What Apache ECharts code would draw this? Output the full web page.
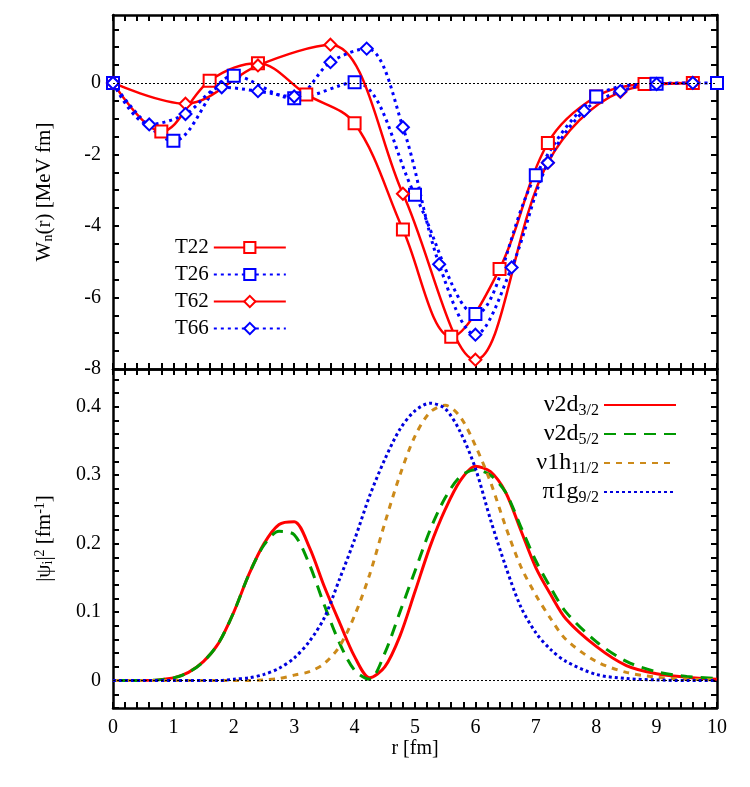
<!DOCTYPE html>
<html>
<head>
<meta charset="utf-8">
<script src="https://cdn.jsdelivr.net/npm/echarts@6/dist/echarts.min.js"></script>
<style>html,body{margin:0;background:#fff}#chart{width:750px;height:787px}</style>
</head>
<body>
<div id="chart"></div>
<script>
// top panel: W_n(r), markers on each curve
var rT22 = [0, 0.8, 1.6, 2.4, 3.2, 4.0, 4.8, 5.6, 6.4, 7.2, 8.0, 8.8, 9.6];
var wT22 = [0, -1.36, 0.06, 0.55, -0.32, -1.13, -4.1, -7.1, -5.2, -1.68, -0.38, -0.03, 0];
var rT26 = [0, 1, 2, 3, 4, 5, 6, 7, 8, 9, 10];
var wT26 = [0, -1.62, 0.2, -0.43, 0.02, -3.13, -6.46, -2.58, -0.38, -0.02, 0];
var rT62 = [0, 1.2, 2.4, 3.6, 4.8, 6.0, 7.2, 8.4, 9.6];
var wT62 = [0, -0.58, 0.49, 1.07, -3.1, -7.74, -2.23, -0.25, 0];
var rT66 = [0, 0.6, 1.2, 1.8, 2.4, 3.0, 3.6, 4.2, 4.8, 5.4, 6.0, 6.6, 7.2, 7.8, 8.4, 9.0, 9.6];
var wT66 = [0, -1.16, -0.87, -0.12, -0.23, -0.38, 0.58, 0.96, -1.24, -5.07, -7.04, -5.16, -2.23, -0.78, -0.23, -0.03, 0];

// bottom panel: |psi|^2
var rPsi = [0, 0.5, 1, 1.25, 1.5, 1.75, 2, 2.25, 2.5, 2.75, 3, 3.25, 3.5, 3.75, 4, 4.25, 4.5, 4.75, 5, 5.25, 5.5, 5.75, 6, 6.25, 6.5, 6.75, 7, 7.25, 7.5, 8, 8.5, 9, 9.5, 10];
var d32  = [0, 0, 0.004, 0.012, 0.028, 0.055, 0.1, 0.155, 0.2, 0.228, 0.232, 0.195, 0.137, 0.085, 0.035, 0.004, 0.02, 0.065, 0.13, 0.196, 0.25, 0.292, 0.313, 0.305, 0.275, 0.22, 0.165, 0.125, 0.09, 0.05, 0.022, 0.01, 0.005, 0.002];
var d52  = [0, 0, 0.004, 0.012, 0.028, 0.055, 0.1, 0.155, 0.198, 0.218, 0.213, 0.17, 0.11, 0.055, 0.015, 0.002, 0.04, 0.1, 0.16, 0.22, 0.267, 0.298, 0.308, 0.3, 0.275, 0.225, 0.175, 0.135, 0.1, 0.057, 0.028, 0.013, 0.006, 0.003];
var h112 = [0, 0, 0, 0, 0, 0, 0, 0, 0.001, 0.003, 0.008, 0.013, 0.025, 0.05, 0.095, 0.155, 0.23, 0.3, 0.357, 0.392, 0.402, 0.385, 0.343, 0.29, 0.225, 0.167, 0.125, 0.09, 0.06, 0.028, 0.012, 0.005, 0.002, 0.001];
var g92  = [0, 0, 0, 0, 0, 0, 0.002, 0.004, 0.009, 0.018, 0.033, 0.057, 0.092, 0.148, 0.206, 0.27, 0.323, 0.367, 0.394, 0.405, 0.397, 0.363, 0.31, 0.235, 0.167, 0.108, 0.07, 0.045, 0.028, 0.009, 0.003, 0.001, 0, 0];

var FONT = 'Liberation Serif';
function zip(xs, ys) { return xs.map(function (x, i) { return [x, ys[i]]; }); }
function isMult(v, m) { var q = v / m; return Math.abs(q - Math.round(q)) < 1e-6; }

function xAx(grid, pos, labels) {
  return {
    type: 'value', gridIndex: grid, position: pos, min: 0, max: 10, interval: 0.2,
    splitLine: { show: false },
    axisLine: { onZero: false, lineStyle: { color: '#000', width: 2.5 } },
    axisTick: { inside: true, length: 6, lineStyle: { color: '#000', width: 2 } },
    axisLabel: labels ? {
      color: '#000', fontFamily: FONT, fontSize: 20, margin: 10,
      formatter: function (v) { return isMult(v, 1) ? String(Math.round(v)) : ''; }
    } : { show: false },
    name: labels ? 'r [fm]' : '', nameLocation: 'middle', nameGap: 30,
    nameTextStyle: { color: '#000', fontFamily: FONT, fontSize: 20 }
  };
}
function yAx(grid, pos, min, max, step, labStep, labels, name) {
  return {
    type: 'value', gridIndex: grid, position: pos, min: min, max: max, interval: step,
    splitLine: { show: false },
    axisLine: { onZero: false, lineStyle: { color: '#000', width: 2.5 } },
    axisTick: { inside: true, length: 6, lineStyle: { color: '#000', width: 2 } },
    axisLabel: labels ? {
      color: '#000', fontFamily: FONT, fontSize: 20, margin: 12, showMaxLabel: false,
      formatter: function (v) { return isMult(v, labStep) ? String(+v.toFixed(1)) : ''; }
    } : { show: false },
    name: name || '', nameLocation: 'middle', nameGap: 58,
    nameTextStyle: { color: '#000', fontFamily: FONT, fontSize: 21,
      rich: { sub: { fontFamily: FONT, fontSize: 14, verticalAlign: 'bottom', padding: [8, 0, 0, 0] },
              sup: { fontFamily: FONT, fontSize: 14, verticalAlign: 'top', padding: [0, 0, 8, 0] } } }
  };
}
function zeroLine() {
  return { silent: true, symbol: 'none', label: { show: false },
    lineStyle: { color: '#000', type: [2, 2], width: 1 }, data: [{ yAxis: 0 }] };
}
function topSeries(name, xs, ys, color, dotted, sym) {
  return {
    name: name, type: 'line', xAxisIndex: 0, yAxisIndex: 0, data: zip(xs, ys),
    smooth: 0.35, symbol: sym, symbolSize: 12,
    lineStyle: { color: color, width: dotted ? 3 : 2.5, type: dotted ? [3, 4] : 'solid' },
    itemStyle: { color: color, borderColor: color, borderWidth: 2.5 }
  };
}
function botSeries(name, ys, color, type) {
  return {
    name: name, type: 'line', xAxisIndex: 2, yAxisIndex: 2, data: zip(rPsi, ys),
    smooth: 0.3, symbol: 'none',
    lineStyle: { color: color, width: 3, type: type },
    itemStyle: { color: color }
  };
}

var chart = echarts.init(document.getElementById('chart'));
var subRich = {
  t: { fontFamily: FONT, fontSize: 24, color: '#000' },
  s: { fontFamily: FONT, fontSize: 16, color: '#000', verticalAlign: 'bottom', padding: [12, 0, 0, 0] }
};
var botNames = { 'v2d3': 'ν2d', 'v2d5': 'ν2d', 'v1h': 'ν1h', 'p1g': 'π1g' };
var botSubs = { 'v2d3': '3/2', 'v2d5': '5/2', 'v1h': '11/2', 'p1g': '9/2' };

var s0 = topSeries('T22', rT22, wT22, '#ff0000', false, 'emptyRect');
s0.markLine = zeroLine();
var b0 = botSeries('v2d3', d32, '#ff0000', 'solid');
b0.markLine = zeroLine();

chart.setOption({
  animation: false,
  grid: [
    { left: 113, right: 33, top: 15, height: 354 },
    { left: 113, right: 33, top: 369, height: 339 }
  ],
  xAxis: [xAx(0, 'bottom', false), xAx(0, 'top', false), xAx(1, 'bottom', true), xAx(1, 'top', false)],
  yAxis: [
    yAx(0, 'left', -8, 1.9, 0.5, 2, true, 'W{sub|n}(r) [MeV fm]'),
    yAx(0, 'right', -8, 1.9, 0.5, 2, false),
    yAx(1, 'left', -0.04, 0.455, 0.02, 0.1, true, '|ψ{sub|i}|{sup|2} [fm{sup|-1}]'),
    yAx(1, 'right', -0.04, 0.455, 0.02, 0.1, false)
  ],
  legend: [
    { data: ['T22', 'T26', 'T62', 'T66'], orient: 'vertical', left: 170, top: 232,
      align: 'right', itemWidth: 72, itemHeight: 14, itemGap: 6,
      textStyle: { fontFamily: FONT, fontSize: 21, color: '#000' } },
    { data: ['v2d3', 'v2d5', 'v1h', 'p1g'], orient: 'vertical', right: 68, top: 388,
      align: 'right', itemWidth: 72, itemHeight: 10, itemGap: 3,
      itemStyle: { opacity: 0 },
      formatter: function (n) { return '{t|' + botNames[n] + '}{s|' + botSubs[n] + '}'; },
      textStyle: { rich: subRich } }
  ],
  series: [
    s0,
    topSeries('T26', rT26, wT26, '#0000ff', true, 'emptyRect'),
    topSeries('T62', rT62, wT62, '#ff0000', false, 'emptyDiamond'),
    topSeries('T66', rT66, wT66, '#0000ff', true, 'emptyDiamond'),
    b0,
    botSeries('v2d5', d52, '#009900', [12, 8]),
    botSeries('v1h', h112, '#cc8a1a', [6, 6]),
    botSeries('p1g', g92, '#0000dd', [3, 3])
  ]
});
</script>
</body>
</html>
